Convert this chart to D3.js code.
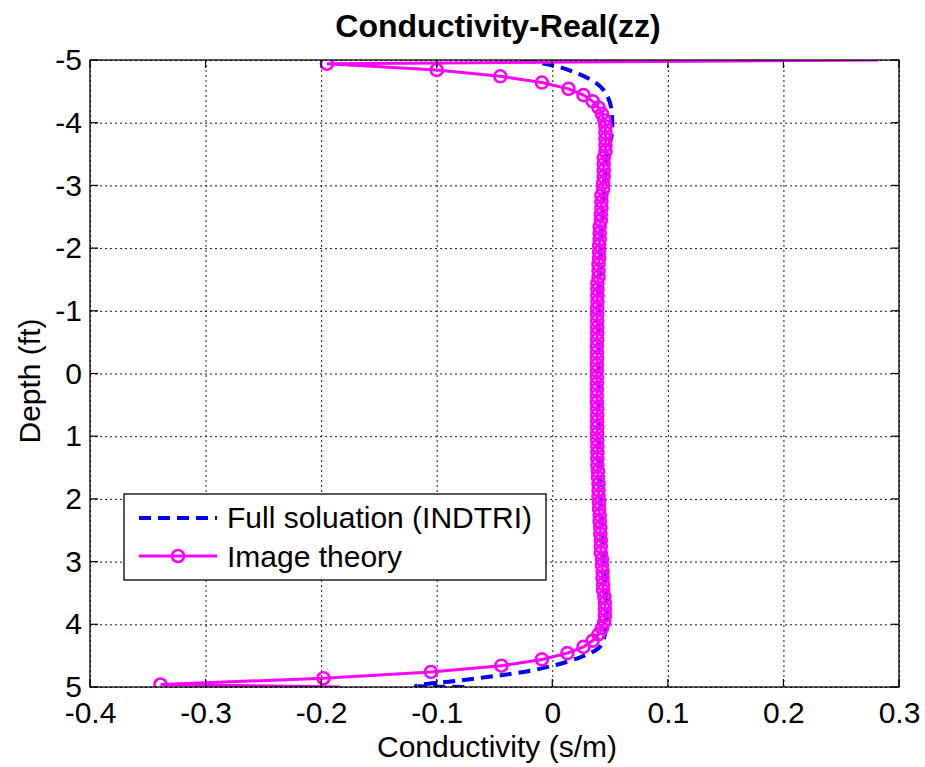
<!DOCTYPE html>
<html>
<head>
<meta charset="utf-8">
<script src="https://cdn.jsdelivr.net/npm/d3@7"></script>
<style>
  body { margin: 0; background: #fff; }
  text { font-family: "Liberation Sans", Arial, sans-serif; fill: #000; }
</style>
</head>
<body>
<svg id="chart" width="925" height="767"></svg>
<script>
// depth of each image-theory sample (ft)
const imageDepth = [
  -4.94, -4.84, -4.74, -4.64, -4.54, -4.44, -4.34, -4.24, -4.14, -4.04,
  -3.94, -3.84, -3.74, -3.64, -3.54, -3.44, -3.34, -3.24, -3.14, -3.04,
  -2.94, -2.84, -2.74, -2.64, -2.54, -2.44, -2.34, -2.24, -2.14, -2.04,
  -1.94, -1.84, -1.74, -1.64, -1.54, -1.44, -1.34, -1.24, -1.14, -1.04,
  -0.94, -0.84, -0.74, -0.64, -0.54, -0.44, -0.34, -0.24, -0.14, -0.04,
  0.06, 0.16, 0.26, 0.36, 0.46, 0.56, 0.66, 0.76, 0.86, 0.96,
  1.06, 1.16, 1.26, 1.36, 1.46, 1.56, 1.66, 1.76, 1.86, 1.96,
  2.06, 2.16, 2.26, 2.36, 2.46, 2.56, 2.66, 2.76, 2.86, 2.96,
  3.06, 3.16, 3.26, 3.36, 3.46, 3.56, 3.66, 3.76, 3.86, 3.96,
  4.06, 4.16, 4.26, 4.36, 4.46, 4.56, 4.66, 4.76, 4.86, 4.96
];
// conductivity from image theory (s/m)
const imageCond = [
  -0.195, -0.100, -0.045, -0.009, 0.014, 0.027, 0.035, 0.040, 0.043, 0.045,
  0.046, 0.046, 0.046, 0.046, 0.046, 0.0445, 0.0445, 0.0445, 0.0445, 0.044,
  0.044, 0.0425, 0.0425, 0.0425, 0.042, 0.042, 0.041, 0.041, 0.041, 0.0405,
  0.0405, 0.0405, 0.040, 0.040, 0.040, 0.039, 0.039, 0.039, 0.039, 0.0388,
  0.0388, 0.0388, 0.0388, 0.0388, 0.0388, 0.0386, 0.0386, 0.0386, 0.0386, 0.0386,
  0.0386, 0.0386, 0.0386, 0.0386, 0.0386, 0.0388, 0.0388, 0.0388, 0.0388, 0.0388,
  0.0388, 0.039, 0.039, 0.039, 0.039, 0.0395, 0.0395, 0.040, 0.040, 0.040,
  0.0405, 0.0405, 0.041, 0.041, 0.0415, 0.0415, 0.042, 0.042, 0.042, 0.043,
  0.043, 0.0435, 0.0435, 0.044, 0.044, 0.045, 0.0455, 0.0455, 0.0455, 0.045,
  0.043, 0.040, 0.035, 0.027, 0.013, -0.009, -0.044, -0.105, -0.198, -0.339
];
// end points of the image-theory line (drawn without markers)
const imageEndDepth = [-5.0, 5.0];
const imageEndCond = [0.282, -0.184];

// full solution (INDTRI)
const fullDepth = [-5.0, -4.92, -4.79, -4.63, -4.41, -4.15, -3.9, -3.6, -3.2, -2.8,
  -2.3, -1.5, 0, 1.5, 2.5, 3.2, 3.8, 4.1, 4.34, 4.53,
  4.66, 4.77, 4.85, 4.92, 4.965, 4.985, 4.995, 5.0];
const fullCond = [-0.025, -0.001, 0.021, 0.038, 0.048, 0.0515, 0.052, 0.049, 0.046, 0.044,
  0.043, 0.041, 0.040, 0.041, 0.043, 0.046, 0.047, 0.046, 0.042, 0.0235,
  0.0004, -0.028, -0.06, -0.092, -0.115, -0.118, -0.1, -0.075];

const xTicks = [-0.4, -0.3, -0.2, -0.1, 0, 0.1, 0.2, 0.3];
const xTickLabels = ["-0.4", "-0.3", "-0.2", "-0.1", "0", "0.1", "0.2", "0.3"];
const yTicks = [-5, -4, -3, -2, -1, 0, 1, 2, 3, 4, 5];
const yTickLabels = ["-5", "-4", "-3", "-2", "-1", "0", "1", "2", "3", "4", "5"];

const legendLabels = ["Full soluation (INDTRI)", "Image theory"];

const plotLeft = 90, plotRight = 899, plotTop = 60, plotBottom = 687;
const width = plotRight - plotLeft, height = plotBottom - plotTop;
const blue = "#0000ff", magenta = "#ff00ff";
const fontSize = "30px";

const svg = d3.select("#chart");
svg.append("rect").attr("width", 925).attr("height", 767).attr("fill", "#fff");

const x = d3.scaleLinear().domain([-0.4, 0.3]).range([0, width]);
const y = d3.scaleLinear().domain([-5, 5]).range([0, height]);

const g = svg.append("g").attr("transform", `translate(${plotLeft},${plotTop})`);

// dotted grid
g.append("g")
  .attr("class", "grid")
  .call(d3.axisBottom(x).tickValues(xTicks).tickSize(height).tickFormat(""))
  .call((s) => s.select(".domain").remove());
g.append("g")
  .attr("class", "grid")
  .call(d3.axisRight(y).tickValues(yTicks).tickSize(width).tickFormat(""))
  .call((s) => s.select(".domain").remove());
g.selectAll(".grid line")
  .attr("stroke", "#000")
  .attr("stroke-width", 0.9)
  .attr("stroke-dasharray", "2,3");

// clipping for the curves
svg.append("clipPath").attr("id", "plotclip")
  .append("rect").attr("width", width).attr("height", height);

const plot = g.append("g").attr("clip-path", "url(#plotclip)");

const fullData = fullDepth.map((d, i) => ({ depth: d, cond: fullCond[i] }));
const imageData = imageDepth.map((d, i) => ({ depth: d, cond: imageCond[i] }));
const imageLineData = [{ depth: imageEndDepth[0], cond: imageEndCond[0] }]
  .concat(imageData)
  .concat([{ depth: imageEndDepth[1], cond: imageEndCond[1] }]);

plot.append("path")
  .datum(fullData)
  .attr("d", d3.line().x((d) => x(d.cond)).y((d) => y(d.depth)).curve(d3.curveMonotoneY))
  .attr("fill", "none")
  .attr("stroke", blue)
  .attr("stroke-width", 4)
  .attr("stroke-dasharray", "12,7");

plot.append("path")
  .datum(imageLineData)
  .attr("d", d3.line().x((d) => x(d.cond)).y((d) => y(d.depth)))
  .attr("fill", "none")
  .attr("stroke", magenta)
  .attr("stroke-width", 3);

plot.selectAll("circle.marker")
  .data(imageData)
  .join("circle")
  .attr("class", "marker")
  .attr("cx", (d) => x(d.cond))
  .attr("cy", (d) => y(d.depth))
  .attr("r", 6)
  .attr("fill", "none")
  .attr("stroke", magenta)
  .attr("stroke-width", 2.6);

// box
g.append("rect")
  .attr("width", width).attr("height", height)
  .attr("fill", "none").attr("stroke", "#000").attr("stroke-width", 1.3);

// inward ticks on all four sides
const tickLen = 8;
const ticks = g.append("g").attr("stroke", "#000").attr("stroke-width", 1.2);
xTicks.forEach((t) => {
  ticks.append("line").attr("x1", x(t)).attr("x2", x(t)).attr("y1", height).attr("y2", height - tickLen);
  ticks.append("line").attr("x1", x(t)).attr("x2", x(t)).attr("y1", 0).attr("y2", tickLen);
});
yTicks.forEach((t) => {
  ticks.append("line").attr("x1", 0).attr("x2", tickLen).attr("y1", y(t)).attr("y2", y(t));
  ticks.append("line").attr("x1", width).attr("x2", width - tickLen).attr("y1", y(t)).attr("y2", y(t));
});

// tick labels
g.append("g")
  .attr("transform", `translate(0,${height})`)
  .call(d3.axisBottom(x).tickValues(xTicks).tickSize(0).tickPadding(15)
    .tickFormat((d, i) => xTickLabels[i]))
  .call((s) => s.select(".domain").remove())
  .selectAll("text")
  .style("font-size", fontSize)
  .style("font-family", "'Liberation Sans', Arial, sans-serif");

g.append("g")
  .call(d3.axisLeft(y).tickValues(yTicks).tickSize(0).tickPadding(8)
    .tickFormat((d, i) => yTickLabels[i]))
  .call((s) => s.select(".domain").remove())
  .selectAll("text")
  .style("font-size", fontSize)
  .style("font-family", "'Liberation Sans', Arial, sans-serif");

// title and axis labels
svg.append("text")
  .attr("x", 498).attr("y", 37)
  .attr("text-anchor", "middle")
  .style("font-size", "32px").style("font-weight", "bold")
  .text("Conductivity-Real(zz)");

svg.append("text")
  .attr("x", 497).attr("y", 757)
  .attr("text-anchor", "middle")
  .style("font-size", fontSize)
  .text("Conductivity (s/m)");

svg.append("text")
  .attr("transform", "rotate(-90)")
  .attr("x", -381).attr("y", 40)
  .attr("text-anchor", "middle")
  .style("font-size", fontSize)
  .text("Depth (ft)");

// legend
const legend = svg.append("g").attr("transform", "translate(124,494)");
legend.append("rect")
  .attr("width", 422).attr("height", 86)
  .attr("fill", "#fff").attr("stroke", "#000").attr("stroke-width", 1.3);

legend.append("line")
  .attr("x1", 15).attr("x2", 93).attr("y1", 24).attr("y2", 24)
  .attr("stroke", blue).attr("stroke-width", 4).attr("stroke-dasharray", "12,7");
legend.append("text").attr("x", 103).attr("y", 34)
  .style("font-size", fontSize).text(legendLabels[0]);

legend.append("line")
  .attr("x1", 15).attr("x2", 93).attr("y1", 62).attr("y2", 62)
  .attr("stroke", magenta).attr("stroke-width", 3);
legend.append("circle")
  .attr("cx", 54).attr("cy", 62).attr("r", 6)
  .attr("fill", "none").attr("stroke", magenta).attr("stroke-width", 2.6);
legend.append("text").attr("x", 103).attr("y", 73)
  .style("font-size", fontSize).text(legendLabels[1]);
</script>
</body>
</html>
